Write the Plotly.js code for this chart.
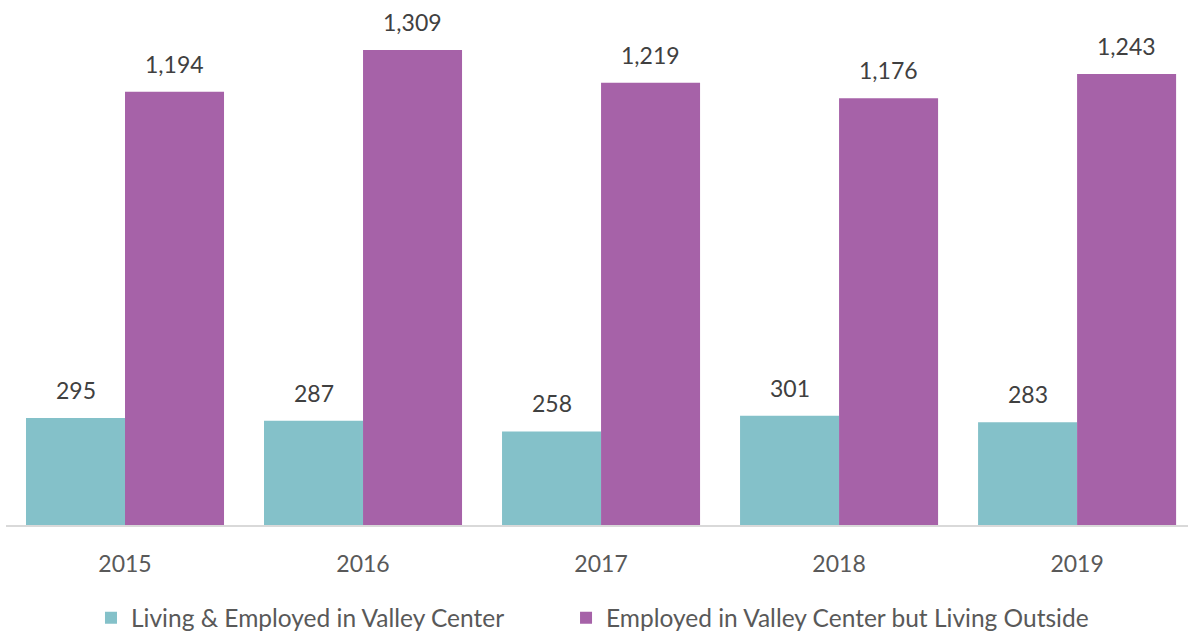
<!DOCTYPE html>
<html><head><meta charset="utf-8">
<script src="https://cdn.plot.ly/plotly-3.0.1.min.js"></script>
<style>html,body{margin:0;padding:0;background:#fff}#chart{width:1188px;height:636px}</style>
</head><body><div id="chart"></div>
<script>
const years = ['2015','2016','2017','2018','2019'];
const seriesNames = ['Living & Employed in Valley Center', 'Employed in Valley Center but Living Outside'];
const livingEmployed = [295, 287, 258, 301, 283];
const employedOutside = [1194, 1309, 1219, 1176, 1243];
const colors = ['#84C1C9', '#A662A8'];

const FONT = 'Lato, "Open Sans", sans-serif';
const traces = [
  {type:'bar', name:seriesNames[0], x:years, y:livingEmployed, marker:{color:colors[0]}, hoverinfo:'skip', legend:'legend'},
  {type:'bar', name:seriesNames[1], x:years, y:employedOutside, marker:{color:colors[1]}, hoverinfo:'skip', legend:'legend2'}
];
const fmt = v => String(v).replace(/\B(?=(\d{3})+(?!\d))/g, ',');
const annotations = [];
[livingEmployed, employedOutside].forEach((arr, si) => {
  arr.forEach((v, i) => {
    annotations.push({x: i, y: v, xref:'x', yref:'y', text: fmt(v), showarrow:false,
      xshift: si === 0 ? -49.5 : 49.5, yanchor:'bottom', yshift: 12,
      font:{family:FONT, size:23, color:'#404040'}});
  });
});
const legFont = {family:FONT, size:24.5, color:'#595959'};
const layout = {
  width:1188, height:636,
  margin:{l:6, r:0, t:0, b:111, autoexpand:false},
  paper_bgcolor:'#fff', plot_bgcolor:'#fff',
  barmode:'group', bargap:0.168, bargroupgap:0,
  font:{family:FONT, size:23, color:'#595959'},
  xaxis:{type:'category', range:[-0.5, 4.466], showline:true, linecolor:'#d9d9d9', linewidth:2,
    ticks:'', ticklabelstandoff:17, tickfont:{family:FONT, size:23, color:'#595959'}, showgrid:false, zeroline:false, fixedrange:true},
  yaxis:{range:[0, 1447], showticklabels:false, ticks:'', showline:false, showgrid:false, zeroline:false, fixedrange:true},
  showlegend:true,
  legend:{orientation:'h', x:0.0719, xanchor:'left', y:-0.177, yanchor:'middle', font:legFont},
  legend2:{orientation:'h', x:0.4738, xanchor:'left', y:-0.177, yanchor:'middle', font:legFont},
  annotations: annotations
};
Plotly.newPlot('chart', traces, layout, {displayModeBar:false, staticPlot:true});
</script></body></html>
